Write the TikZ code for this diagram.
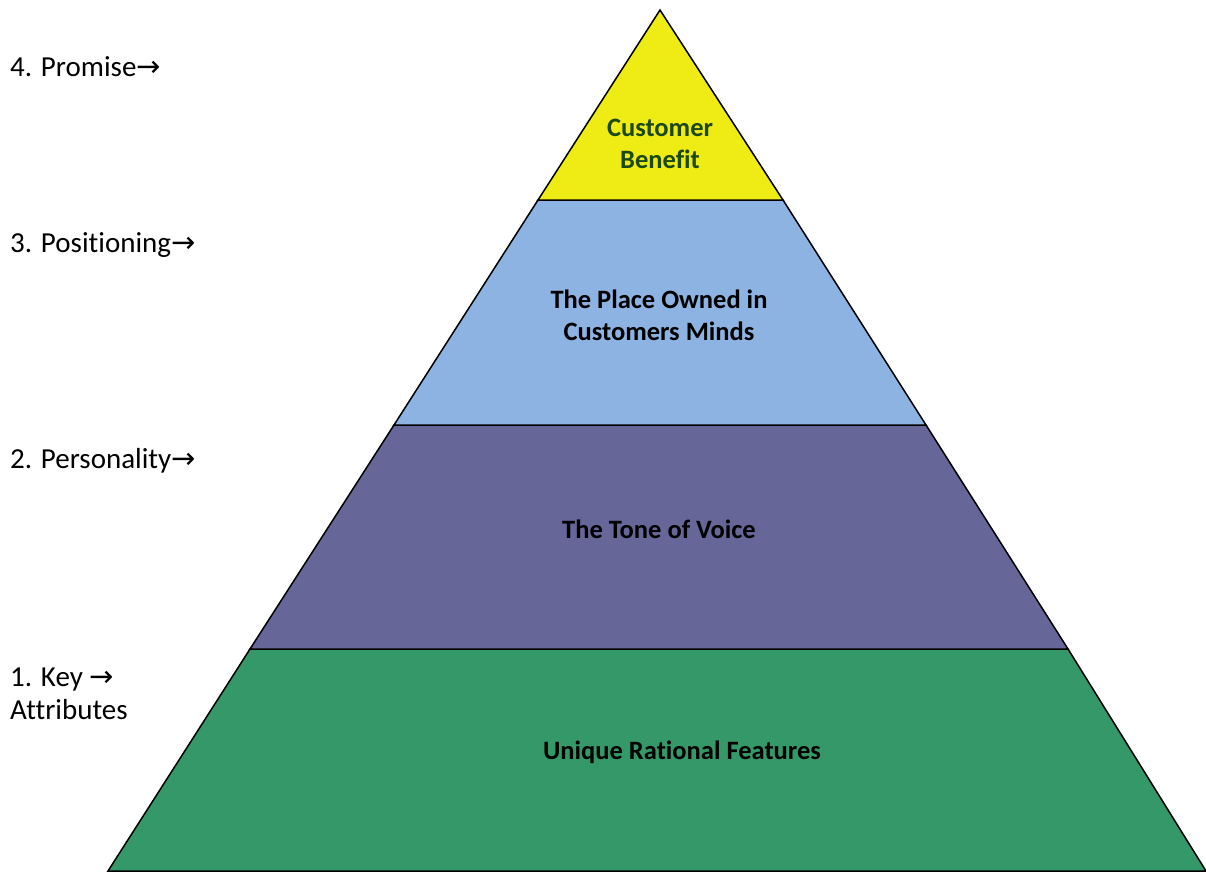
\documentclass[tikz,border=0pt]{standalone}
\usepackage{fontspec}
\setmainfont{Carlito}[Ligatures=NoCommon]
\newfontfamily\arrowfont{DejaVu Sans}
\definecolor{lvyellow}{RGB}{238,236,20}
\definecolor{lvblue}{RGB}{141,179,226}
\definecolor{lvpurple}{RGB}{102,102,153}
\definecolor{lvgreen}{RGB}{53,152,104}
\definecolor{darkgreentext}{RGB}{28,72,20}
\tikzset{
  layer/.style={draw=black, line width=1.5pt, line join=miter},
  inlabel/.style={font=\fontsize{26.5}{32}\selectfont\bfseries, align=center, inner sep=0pt},
  sidelabel/.style={font=\fontsize{29}{33}\selectfont, align=left, anchor=west, inner sep=0pt}
}
\newcommand{\rarr}{{\arrowfont\fontsize{29}{29}\selectfont →}}
\begin{document}
\begin{tikzpicture}[x=1pt,y=-1pt]
\useasboundingbox (0,0) rectangle (1206,871);
% corner coordinates
\coordinate (apex) at (660,10);
\coordinate (l1) at (538,200); \coordinate (r1) at (783,200);
\coordinate (l2) at (394,425); \coordinate (r2) at (926,425);
\coordinate (l3) at (250,649); \coordinate (r3) at (1068,649);
\coordinate (l4) at (108,871); \coordinate (r4) at (1206,871);
% layers
\filldraw[layer, fill=lvgreen] (l3) -- (r3) -- (r4) -- (l4) -- cycle;
\filldraw[layer, fill=lvpurple] (l2) -- (r2) -- (r3) -- (l3) -- cycle;
\filldraw[layer, fill=lvblue] (l1) -- (r1) -- (r2) -- (l2) -- cycle;
\filldraw[layer, fill=lvyellow] (apex) -- (r1) -- (l1) -- cycle;
% inner labels
\node[inlabel, text=darkgreentext] (benefit) at (660,144) {Customer\\Benefit};
\node[inlabel] (place) at (659,315) {The Place Owned in\\Customers Minds};
\node[inlabel] (tone) at (659,529) {The Tone of Voice};
\node[inlabel] (unique) at (682,752) {Unique Rational Features};
% side labels
\node[sidelabel] (promise) at (10,67) {4. Promise\rarr};
\node[sidelabel] (positioning) at (10,245) {3. Positioning\rarr};
\node[sidelabel] (personality) at (10,461) {2. Personality\rarr};
\node[sidelabel] (key) at (10,694) {1. Key \rarr\\Attributes};
\end{tikzpicture}
\end{document}
